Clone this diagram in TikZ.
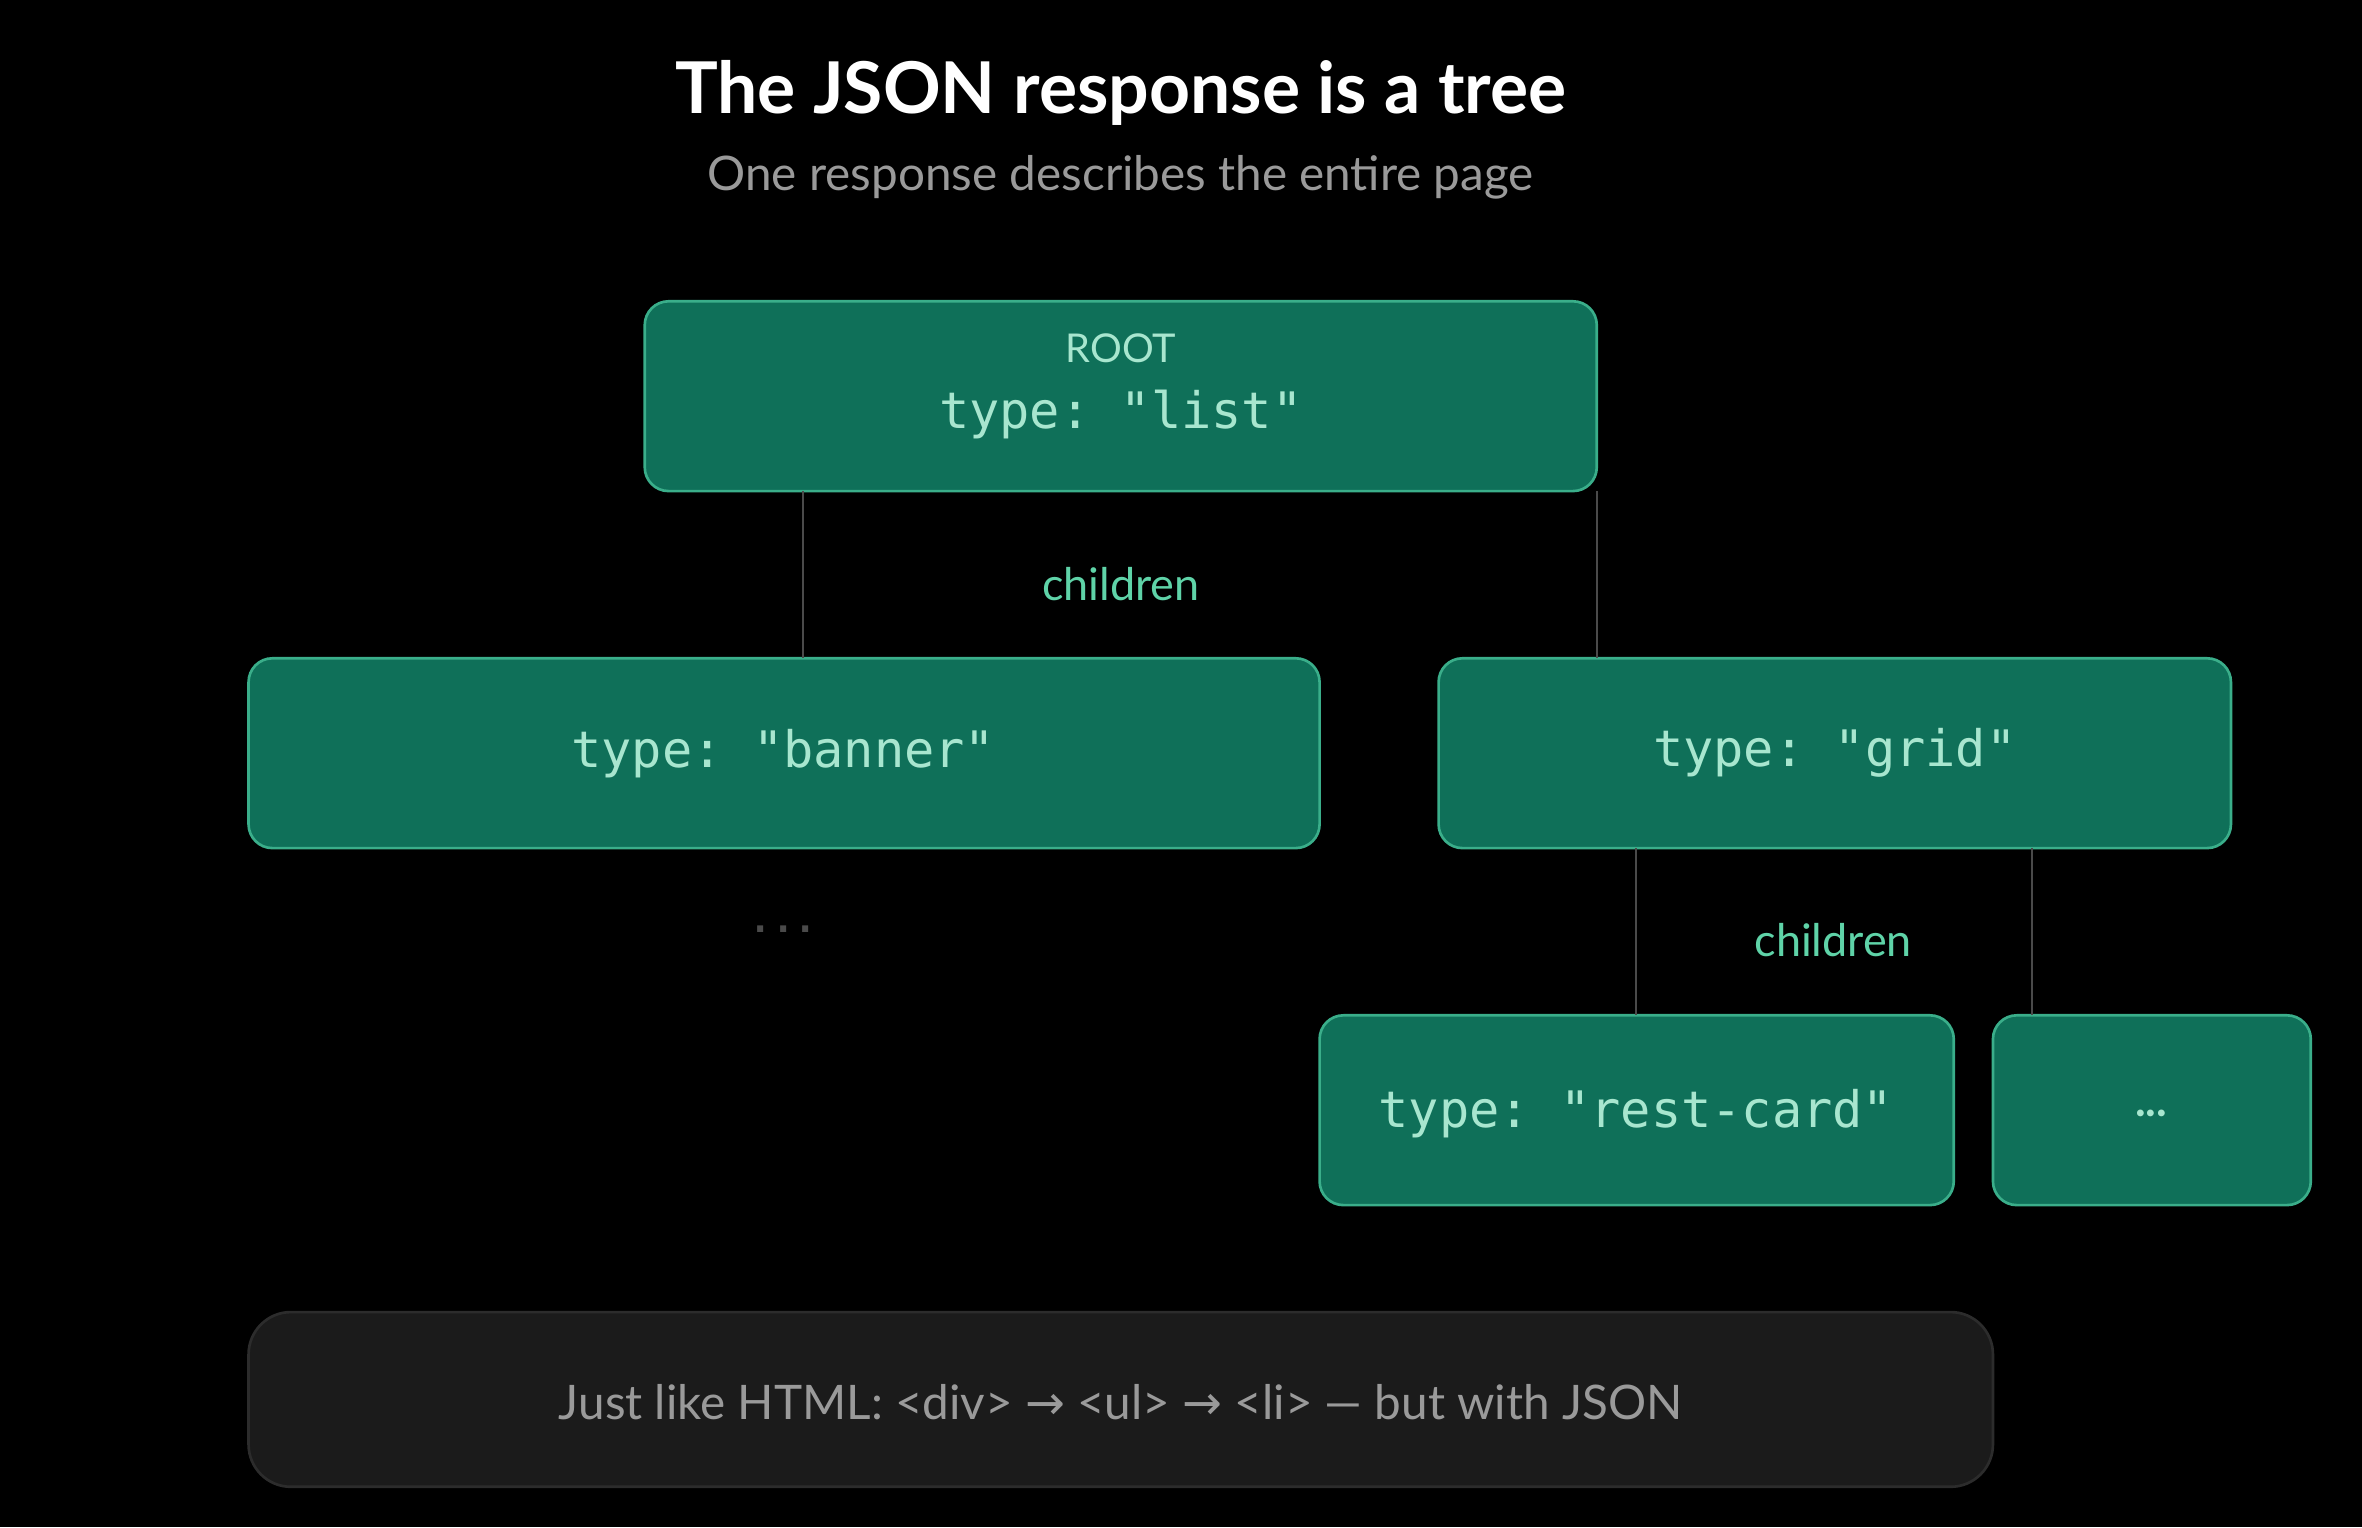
\documentclass[tikz,border=0pt]{standalone}
\usepackage{fontspec}
\setmainfont{Lato}
\setmonofont{DejaVu Sans Mono}
\definecolor{nodefill}{HTML}{0F7059}
\definecolor{nodeline}{HTML}{3AAE8A}
\definecolor{nodetext}{HTML}{A8E6CF}
\definecolor{mint}{HTML}{5FD3A8}
\definecolor{wire}{HTML}{4A4A4A}
\definecolor{notefill}{HTML}{1B1B1B}
\definecolor{noteline}{HTML}{2C2C2C}
\definecolor{subgray}{HTML}{9A9A9A}
\tikzset{
	jsonbox/.style={draw=nodeline, fill=nodefill, rounded corners=9pt, line width=1pt,
		text=nodetext, font=\ttfamily\fontsize{19}{22}\selectfont},
	wireline/.style={draw=wire, line width=0.8pt},
	kidslabel/.style={text=mint, font=\fontsize{17}{20}\selectfont}
}
\begin{document}
\begin{tikzpicture}[x=0.02cm, y=-0.02cm]
	\fill[black] (0, 0) rectangle (1568, 1014);

	\node[text=white, font=\bfseries\fontsize{27}{32}\selectfont] (title) at (744, 62) {The JSON response is a tree};
	\node[text=subgray, font=\fontsize{18}{22}\selectfont] (subtitle) at (744, 118) {One response describes the entire page};

	% boxes
	\draw[jsonbox] (428, 200) rectangle (1060, 326);
	\node[text=nodetext, font=\fontsize{15}{18}\selectfont] (rootlbl) at (744, 231) {ROOT};
	\node[jsonbox, draw=none, fill=none] (root) at (744, 275) {type: "list"};
	\coordinate (rootL) at (533, 326);
	\coordinate (rootR) at (1060, 326);

	\draw[jsonbox] (165, 437) rectangle (876, 563);
	\node[jsonbox, draw=none, fill=none] (banner) at (520, 500) {type: "banner"};
	\coordinate (bannerT) at (533, 437);

	\draw[jsonbox] (955, 437) rectangle (1481, 563);
	\node[jsonbox, draw=none, fill=none] (grid) at (1218, 500) {type: "grid"};
	\coordinate (gridT) at (1060, 437);
	\coordinate (gridL) at (1086, 563);
	\coordinate (gridR) at (1349, 563);

	\draw[jsonbox] (876, 674) rectangle (1297, 800);
	\node[jsonbox, draw=none, fill=none] (card) at (1086, 739) {type: "rest-card"};
	\coordinate (cardT) at (1086, 674);

	\draw[jsonbox] (1323, 674) rectangle (1534, 800);
	\node[text=nodetext, font=\bfseries\fontsize{17}{20}\selectfont] (more) at (1428, 739) {...};
	\coordinate (moreT) at (1349, 674);

	% connectors
	\draw[wireline] (rootL) -- (bannerT);
	\draw[wireline] (rootR) -- (gridT);
	\draw[wireline] (gridL) -- (cardT);
	\draw[wireline] (gridR) -- (moreT);

	\node[kidslabel] (kids1) at (744, 388) {children};
	\node[kidslabel] (kids2) at (1217, 624) {children};
	\node[text=wire, font=\ttfamily\bfseries\fontsize{14}{16}\selectfont] (etc) at (520, 617) {...};

	% note
	\draw[fill=notefill, draw=noteline, line width=1pt, rounded corners=16pt] (165, 871) rectangle (1323, 987);
	\node[text=subgray, font=\fontsize{18}{22}\selectfont] (note) at (744, 931)
		{Just like HTML: <div> {\fontspec{DejaVu Sans}\char"2192} <ul> {\fontspec{DejaVu Sans}\char"2192} <li> --- but with JSON};
\end{tikzpicture}
\end{document}
